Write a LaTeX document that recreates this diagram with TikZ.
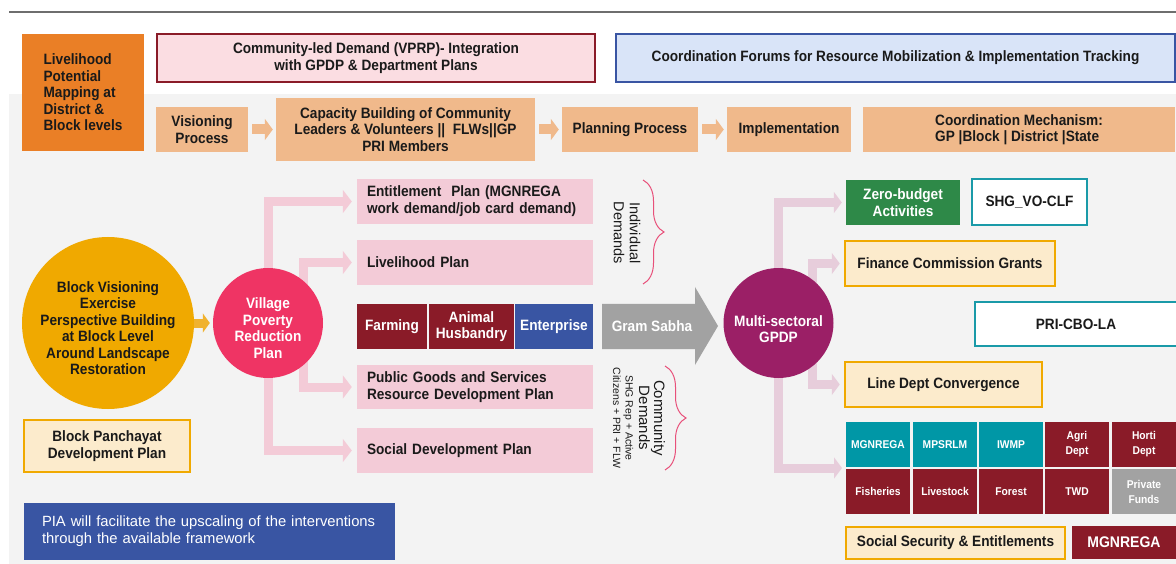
\documentclass[tikz,border=0pt]{standalone}
\usepackage{fontspec}
\setmainfont{Liberation Sans}[BoldFeatures={FakeStretch=0.91}]
\usetikzlibrary{arrows.meta,decorations.pathreplacing,calc}
\pgfdeclarelayer{back}
\pgfdeclarelayer{links}
\pgfsetlayers{back,links,main}

\definecolor{bggray}{HTML}{F3F3F3}
\definecolor{lineg}{HTML}{6E6E6E}
\definecolor{orangeA}{HTML}{EA7F26}
\definecolor{pinkfill}{HTML}{FBDDE2}
\definecolor{darkred}{HTML}{8A1B28}
\definecolor{bluefill}{HTML}{D9E4F8}
\definecolor{blueB}{HTML}{3955A3}
\definecolor{peach}{HTML}{F0B98B}
\definecolor{gold}{HTML}{F0A900}
\definecolor{rose}{HTML}{EF3464}
\definecolor{pinkc}{HTML}{F3CBD7}
\definecolor{grayA}{HTML}{A2A2A2}
\definecolor{plum}{HTML}{9B1F66}
\definecolor{mauve}{HTML}{E7CDDB}
\definecolor{greenA}{HTML}{2E8948}
\definecolor{teal}{HTML}{1A9AA8}
\definecolor{tealfill}{HTML}{0097A6}
\definecolor{cream}{HTML}{FCEBCC}
\definecolor{bracec}{HTML}{E8507A}
\definecolor{ink}{HTML}{1A1A1A}
\definecolor{yellowarr}{HTML}{F0B22E}

% box given by its corners: name, x1, y1, x2, y2, style, text
\newcommand\boxnode[7]{%
  \node[#6, minimum width={(#4)-(#2)}, minimum height={(#5)-(#3)}]
    (#1) at ({((#2)+(#4))/2},{((#3)+(#5))/2}) {#7};}

\tikzset{
  txt/.style={font=\bfseries\fontsize{15}{16.5}\selectfont, text=ink, align=center, inner sep=2pt},
  peachbox/.style={txt, fill=peach},
  planbox/.style={txt, fill=pinkc, align=left, text width=216pt, inner xsep=10pt,
                  font=\bfseries\fontsize{15}{17}\selectfont},
  creambox/.style={txt, fill=cream, draw=gold, line width=2.5pt},
  tealbox/.style={txt, fill=white, draw=teal, line width=2.5pt},
  cellbig/.style={txt, text=white},
  cellsmall/.style={txt, text=white, font=\bfseries\fontsize{11.3}{15}\selectfont},
  piabox/.style={fill=blueB, text=white, font=\fontsize{14.8}{17}\selectfont,
                 align=left, text width=335pt, inner xsep=18pt},
  disc/.style={circle, inner sep=0pt},
  disctext/.style={txt, inner sep=0pt},
  pinkarrow/.style={draw=pinkc, line width=9pt, line join=miter,
                    -{Triangle[width=23pt,length=9pt]}, shorten >=5pt},
  mauvearrow/.style={draw=mauve, line width=9pt, line join=miter,
                     -{Triangle[width=21pt,length=8pt]}, shorten >=4pt},
  peacharrow/.style={draw=peach, line width=10pt,
                     -{Triangle[width=21pt,length=8pt]}, shorten >=3pt, shorten <=4pt},
  yarrow/.style={draw=yellowarr, line width=9pt,
                 -{Triangle[width=19pt,length=7pt]}, shorten >=3pt},
  bracepath/.style={draw=bracec, line width=1pt, decorate,
                    decoration={brace, amplitude=21pt, aspect=0.5}},
  sidetext/.style={rotate=-90, text=ink, align=center, inner sep=0pt}
}

\begin{document}
\begin{tikzpicture}[x=1pt, y=-1pt]
\useasboundingbox (0,0) rectangle (1176,564);

\begin{pgfonlayer}{back}
  \fill[white] (0,0) rectangle (1176,564);
  \fill[bggray] (9,94) rectangle (1176,564);
  \draw[lineg, line width=2pt] (9,12) -- (1176,12);
\end{pgfonlayer}

% ---- header bands ----
\boxnode{lpm}{22}{34}{144}{151}{txt, fill=orangeA, align=left}{Livelihood\\Potential\\Mapping at\\District \&\\Block levels}
\boxnode{vprpbox}{157}{34}{595}{82}{txt, fill=pinkfill, draw=darkred, line width=2pt}{Community-led Demand (VPRP)- Integration\\with GPDP \& Department Plans}
\boxnode{forum}{616}{34}{1175}{82}{txt, fill=bluefill, draw=blueB, line width=2pt}{Coordination Forums for Resource Mobilization \& Implementation Tracking}

% ---- process row ----
\boxnode{vis}{156}{107}{248}{152}{peachbox}{Visioning\\Process}
\boxnode{cap}{276}{98}{535}{161}{peachbox}{Capacity Building of Community\\Leaders \& Volunteers ||\ \ FLWs||GP\\PRI Members}
\boxnode{plan}{562}{107}{698}{152}{peachbox}{Planning Process}
\boxnode{impl}{727}{107}{851}{152}{peachbox}{Implementation}
\boxnode{coord}{863}{107}{1175}{152}{peachbox, align=left}{Coordination Mechanism:\\GP |Block | District |State}

\begin{pgfonlayer}{links}
  \draw[peacharrow] (vis.east) -- (cap.west);
  \draw[peacharrow] (cap.east) -- (plan.west);
  \draw[peacharrow] (plan.east) -- (impl.west);
\end{pgfonlayer}

% ---- visioning and VPRP ----
\node[disc, fill=gold, minimum size=172pt] (bv) at (108,323) {};
\node[disctext] (bvtext) at ($(bv.center)+(0,5)$)
  {Block Visioning\\Exercise\\Perspective Building\\at Block Level\\Around Landscape\\Restoration};
\node[disc, fill=rose, minimum size=110pt] (vprp) at (268,323) {};
\node[disctext, text=white] (vprptext) at ($(vprp.center)+(0,5)$)
  {Village\\Poverty\\Reduction\\Plan};
\coordinate (vin) at (303,323);

\boxnode{ent}{357}{179}{593}{224}{planbox}{Entitlement\ \ Plan (MGNREGA\\work demand/job card demand)}
\boxnode{liv}{357}{240}{593}{285}{planbox}{Livelihood Plan}
\boxnode{farm}{357}{304}{427}{349}{cellbig, fill=darkred}{Farming}
\boxnode{anim}{429}{304}{514}{349}{cellbig, fill=darkred}{Animal\\Husbandry}
\boxnode{entp}{515}{304}{593}{349}{cellbig, fill=blueB}{Enterprise}
\boxnode{pub}{357}{365}{593}{409}{planbox}{Public Goods and Services\\Resource Development Plan}
\boxnode{soc}{357}{428}{593}{473}{planbox}{Social Development Plan}

\begin{pgfonlayer}{links}
  \draw[yarrow] (bv.east) -- (vprp.west);
  \draw[pinkarrow] (vprp.center) |- (ent.west);
  \draw[pinkarrow] (vprp.center) |- (soc.west);
  \draw[pinkarrow] (vin) |- (liv.west);
  \draw[pinkarrow] (vin) |- (pub.west);
\end{pgfonlayer}

% ---- demand braces ----
\coordinate (ibt) at (643,180);
\coordinate (ibb) at (643,284);
\coordinate (cbt) at (665,366);
\coordinate (cbb) at (665,470);
\draw[bracepath] (ibt) -- (ibb);
\draw[bracepath] (cbt) -- (cbb);
\node[sidetext, font=\fontsize{14.5}{16}\selectfont] (ind) at (627,233) {Individual\\Demands};
\node[sidetext, font=\fontsize{15}{11.5}\selectfont] (cd) at (652,418) {Community\\Demands};
\node[sidetext, font=\fontsize{10.5}{12.5}\selectfont] (cds) at (623,418) {SHG Rep + Active\\Citizens + PRI + FLW};

% ---- Gram Sabha ----
\fill[grayA] (602,304) -- (695,304) -- (695,287) -- (718,326) -- (695,365) -- (695,349) -- (602,349) -- cycle;
\node[txt, text=white] (gs) at (652,326) {Gram Sabha};

% ---- GPDP and convergence ----
\node[disc, fill=plum, minimum size=110pt] (gpdp) at (778.5,323) {};
\node[disctext, text=white] (gpdptext) at ($(gpdp.center)+(0,6)$) {Multi-sectoral\\GPDP};
\coordinate (gin) at (812.5,323);
\coordinate (gridin) at (846,468);

\boxnode{zero}{846}{180}{960}{225}{txt, fill=greenA, text=white}{Zero-budget\\Activities}
\boxnode{shg}{972}{179}{1087}{225}{tealbox}{SHG\_VO-CLF}
\boxnode{fin}{845}{241}{1055}{286}{creambox}{Finance Commission Grants}
\boxnode{pri}{975}{302}{1177}{346}{tealbox}{PRI-CBO-LA}
\boxnode{ldc}{845}{362}{1042}{407}{creambox}{Line Dept Convergence}

\boxnode{g11}{846}{422}{910}{467}{cellsmall, fill=tealfill}{MGNREGA}
\boxnode{g12}{913}{422}{977}{467}{cellsmall, fill=tealfill}{MPSRLM}
\boxnode{g13}{979}{422}{1043}{467}{cellsmall, fill=tealfill}{IWMP}
\boxnode{g14}{1045}{422}{1109}{467}{cellsmall, fill=darkred}{Agri\\Dept}
\boxnode{g15}{1112}{422}{1176}{467}{cellsmall, fill=darkred}{Horti\\Dept}
\boxnode{g21}{846}{469}{910}{514}{cellsmall, fill=darkred}{Fisheries}
\boxnode{g22}{913}{469}{977}{514}{cellsmall, fill=darkred}{Livestock}
\boxnode{g23}{979}{469}{1043}{514}{cellsmall, fill=darkred}{Forest}
\boxnode{g24}{1045}{469}{1109}{514}{cellsmall, fill=darkred}{TWD}
\boxnode{g25}{1112}{469}{1176}{514}{cellsmall, fill=grayA}{Private\\Funds}

\boxnode{sse}{846}{527}{1065}{559}{creambox}{Social Security \& Entitlements}
\boxnode{mg}{1072}{526}{1176}{559}{txt, fill=darkred, text=white, font=\bfseries\fontsize{15.4}{17}\selectfont}{MGNREGA}

\begin{pgfonlayer}{links}
  \draw[mauvearrow] (gpdp.center) |- (zero.west);
  \draw[mauvearrow] (gpdp.center) |- (gridin);
  \draw[mauvearrow] (gin) |- (fin.west);
  \draw[mauvearrow] (gin) |- (ldc.west);
\end{pgfonlayer}

% ---- lower left ----
\boxnode{bpdp}{24}{420}{190}{472}{creambox}{Block Panchayat\\Development Plan}
\boxnode{pia}{24}{503}{395}{560}{piabox}{PIA will facilitate the upscaling of the interventions\\through the available framework}

\end{tikzpicture}
\end{document}
